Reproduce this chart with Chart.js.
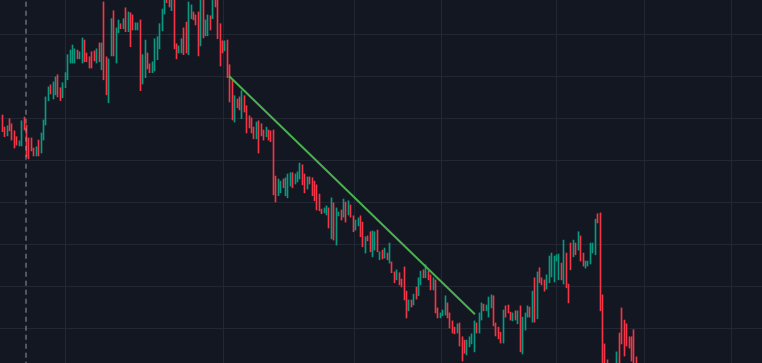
<!DOCTYPE html>
<html>
<head>
<meta charset="utf-8">
<script src="https://cdn.jsdelivr.net/npm/chart.js@4.4.1/dist/chart.umd.min.js"></script>
<style>
  html, body { margin: 0; padding: 0; background: #131722; }
  #wrap { width: 762px; height: 363px; position: relative; }
</style>
</head>
<body>
<div id="wrap"><canvas id="priceChart"></canvas></div>
<script>
// Bar highs / lows (price units) and direction (1 = up bar, 0 = down bar)
const highs = [
  60.9, 58.0, 58.3, 60.0, 58.8, 57.1, 55.7, 54.7, 59.5, 60.4,
  58.5, 55.4, 55.4, 53.0, 53.3, 54.9, 56.6, 59.7, 65.2, 67.6,
  68.1, 68.8, 70.0, 70.5, 67.4, 68.6, 71.0, 75.3, 76.4, 77.6,
  76.7, 76.4, 76.0, 79.3, 78.8, 75.7, 74.8, 76.0, 76.2, 76.7,
  78.1, 78.1, 87.9, 74.8, 74.3, 83.9, 85.8, 81.7, 83.6, 82.7,
  83.9, 86.5, 85.5, 85.3, 84.8, 82.9, 82.9, 83.6, 75.3, 78.8,
  75.7, 73.1, 73.6, 79.1, 79.6, 82.7, 86.2, 89.6, 90.3, 89.4,
  89.4, 88.9, 77.9, 77.4, 79.1, 81.7, 83.1, 87.9, 87.2, 85.5,
  84.8, 85.5, 89.1, 88.6, 83.6, 84.8, 84.6, 89.1, 89.1, 89.1,
  82.7, 78.6, 78.6, 78.8, 72.9, 69.3, 65.5, 64.7, 65.2, 66.7,
  65.5, 63.1, 60.7, 60.2, 58.0, 59.2, 59.5, 58.8, 57.3, 58.0,
  57.3, 57.1, 57.3, 46.3, 45.6, 45.1, 45.6, 45.9, 46.8, 47.1,
  47.1, 46.8, 47.3, 49.4, 49.0, 46.8, 46.1, 46.1, 45.9, 45.1,
  44.2, 42.0, 38.4, 38.7, 39.2, 38.7, 41.1, 39.9, 38.7, 37.7,
  38.2, 40.8, 40.1, 40.4, 39.4, 36.8, 35.8, 36.3, 36.8, 35.3,
  31.8, 32.0, 33.0, 33.2, 33.0, 33.4, 28.2, 28.6, 29.1, 27.9,
  30.3, 25.8, 23.4, 23.9, 23.2, 21.7, 24.6, 18.8, 16.7, 16.7,
  18.1, 19.8, 22.0, 23.6, 23.9, 25.1, 23.6, 22.7, 22.0, 21.5,
  14.8, 13.6, 14.3, 17.7, 16.0, 13.6, 11.7, 10.2, 11.0, 11.2,
  7.9, 7.1, 7.1, 7.9, 8.6, 11.7, 11.2, 13.6, 16.0, 15.7,
  15.5, 17.4, 17.9, 17.7, 11.2, 10.2, 9.0, 14.3, 15.3, 15.5,
  13.8, 13.6, 14.1, 14.1, 15.3, 12.6, 13.6, 15.3, 15.0, 18.8,
  22.0, 23.4, 24.4, 22.0, 21.5, 22.7, 27.2, 27.9, 27.2, 27.5,
  27.7, 25.5, 31.0, 27.9, 20.5, 30.3, 31.0, 30.3, 33.0, 32.0,
  27.9, 26.0, 26.0, 30.3, 30.3, 36.0, 37.3, 37.5, 17.9, 6.2,
  2.4, 1.2, 0.4, 0.9, 4.3, 8.8, 14.8, 11.9, 11.0, 7.9,
  7.9, 9.6, 3.1
];
const lows = [
  56.9, 55.7, 55.9, 57.1, 54.9, 53.0, 53.7, 53.5, 53.5, 57.3,
  50.9, 50.4, 52.3, 51.1, 51.1, 51.1, 51.8, 54.9, 58.5, 64.3,
  65.9, 64.7, 65.7, 65.2, 64.3, 65.0, 67.4, 69.3, 73.3, 73.3,
  73.3, 74.3, 74.3, 73.3, 73.6, 73.6, 72.1, 72.1, 73.8, 73.3,
  73.6, 71.7, 69.3, 65.7, 63.8, 75.0, 75.0, 73.3, 80.5, 81.5,
  81.5, 80.8, 80.8, 77.2, 81.2, 81.2, 81.2, 66.7, 68.3, 69.8,
  71.9, 71.0, 71.0, 71.4, 74.1, 76.7, 81.0, 85.0, 87.7, 86.7,
  85.8, 76.7, 74.3, 75.7, 75.7, 75.3, 75.7, 75.3, 83.9, 83.6,
  82.4, 75.0, 77.4, 79.3, 79.8, 79.8, 81.2, 83.9, 86.7, 79.1,
  72.6, 75.7, 76.2, 69.8, 64.0, 59.7, 59.2, 62.6, 62.1, 60.0,
  61.6, 56.6, 57.8, 56.6, 55.2, 55.2, 51.8, 55.9, 54.9, 55.7,
  54.9, 54.5, 41.8, 40.1, 41.6, 42.3, 43.5, 41.6, 41.1, 43.9,
  43.5, 44.4, 44.9, 45.6, 44.2, 42.3, 43.2, 44.4, 41.6, 40.4,
  38.2, 38.0, 37.3, 37.5, 37.0, 33.9, 31.3, 31.0, 29.8, 36.8,
  35.8, 36.5, 35.3, 37.0, 36.5, 33.0, 33.4, 34.4, 31.8, 29.4,
  27.9, 30.8, 28.2, 27.0, 28.6, 28.2, 26.3, 26.5, 26.7, 26.3,
  25.5, 23.2, 20.8, 21.5, 20.3, 19.8, 16.7, 12.4, 14.1, 15.0,
  15.5, 16.9, 17.7, 20.3, 22.0, 22.0, 21.5, 19.1, 19.1, 13.6,
  12.4, 12.4, 12.9, 13.1, 12.4, 10.0, 8.8, 8.6, 8.8, 5.7,
  2.1, 4.0, 3.6, 5.5, 6.2, 4.3, 8.8, 8.8, 11.9, 14.1,
  14.1, 12.6, 14.8, 10.5, 8.1, 7.4, 6.4, 6.4, 12.6, 13.6,
  11.9, 11.7, 11.9, 11.0, 4.3, 3.8, 9.5, 12.6, 12.6, 11.4,
  11.4, 12.2, 20.8, 20.3, 18.8, 19.3, 20.8, 22.2, 21.0, 26.0,
  21.5, 21.5, 20.5, 19.6, 16.0, 23.9, 27.0, 27.5, 28.6, 26.0,
  24.8, 24.3, 24.8, 25.3, 27.9, 27.5, 35.1, 14.1, 0.0, -0.5,
  -1.2, -2.4, -3.6, -1.9, -1.2, 0.4, 6.2, 3.3, 5.7, 5.2,
  2.1, 0.4, -1.2
];
const ups = [
  0,0,1,0,0,0,0,1,1,0, 0,0,0,0,1,0,1,1,1,1,
  0,1,1,0,0,1,1,1,1,1, 1,0,1,1,0,0,0,0,0,1,
  0,1,0,0,1,1,0,1,1,0, 1,0,1,0,0,1,1,0,1,1,
  0,0,1,1,1,1,1,1,0,0, 1,0,0,1,1,0,0,1,1,0,
  0,0,1,0,1,1,0,1,0,0, 0,0,1,0,0,0,1,0,0,1,
  0,0,0,0,0,1,0,0,0,1, 0,0,0,0,1,1,0,1,1,1,
  0,1,1,1,0,0,1,0,0,0, 0,0,0,1,1,0,1,0,1,1,
  0,1,0,1,0,0,1,1,0,0, 1,0,0,1,1,0,1,0,1,0,
  1,0,0,1,0,0,0,0,1,0, 1,0,1,1,0,1,0,0,1,0,
  0,1,1,1,0,0,0,0,1,0, 0,0,1,1,1,1,0,1,1,0,
  1,1,1,0,0,0,0,1,0,0, 0,1,0,1,0,1,1,1,0,1,
  0,1,0,0,0,1,1,1,1,1, 1,0,1,0,0,0,1,0,1,0,
  0,1,1,1,1,1,0,0,0,0, 0,0,1,1,1,0,0,0,0,0,
  0,0,0
];

// Time gridline positions (bar index), drawing marker and trend line
const timeGrid = [26.3, 91.6, 145.7, 181.4, 229.2, 265.2, 301.2];
const markerBar = 9.8;
const trendPoints = [{ x: 93.7, y: 70.2 }, { x: 195.3, y: 13.3 }];

const upColor = "#089981";
const downColor = "#f23645";

const bars = highs.map((h, i) => ({ x: i, y: [lows[i], h] }));
const barColors = ups.map((u) => (u ? upColor : downColor));

// Snap thin bars to whole pixels so they stay crisp
const crispBars = {
  id: "crispBars",
  beforeDatasetDraw(chart, args) {
    if (args.meta.type !== "bar") return;
    args.meta.data.forEach((el) => {
      el.x = Math.floor(el.x) + 0.5;
    });
  },
};

const ctx = document.getElementById("priceChart").getContext("2d");
new Chart(ctx, {
  type: "bar",
  data: {
    datasets: [
      {
        type: "line",
        data: trendPoints,
        borderColor: "#4caf50",
        borderWidth: 2,
        pointRadius: 0,
        order: 0,
      },
      {
        type: "line",
        data: [{ x: markerBar, y: -10 }, { x: markerBar, y: 100 }],
        borderColor: "#9598a1",
        borderWidth: 1,
        borderDash: [5, 4],
        pointRadius: 0,
        order: 1,
      },
      {
        type: "bar",
        data: bars,
        backgroundColor: barColors,
        barThickness: 1,
        borderWidth: 0,
        order: 2,
      },
    ],
  },
  options: {
    responsive: true,
    maintainAspectRatio: false,
    animation: false,
    layout: { padding: 0 },
    plugins: { legend: { display: false }, tooltip: { enabled: false } },
    scales: {
      x: {
        type: "linear",
        offset: false,
        min: -0.95,
        max: 313.93,
        afterBuildTicks: (scale) => {
          scale.ticks = timeGrid.map((v) => ({ value: v }));
        },
        ticks: { display: false },
        grid: { color: "#232733", drawTicks: false, offset: false },
        border: { display: false },
      },
      y: {
        min: 1.64,
        max: 88.36,
        ticks: { display: false, stepSize: 10, includeBounds: false },
        grid: { color: "#232733", drawTicks: false },
        border: { display: false },
      },
    },
  },
  plugins: [crispBars],
});
</script>
</body>
</html>
